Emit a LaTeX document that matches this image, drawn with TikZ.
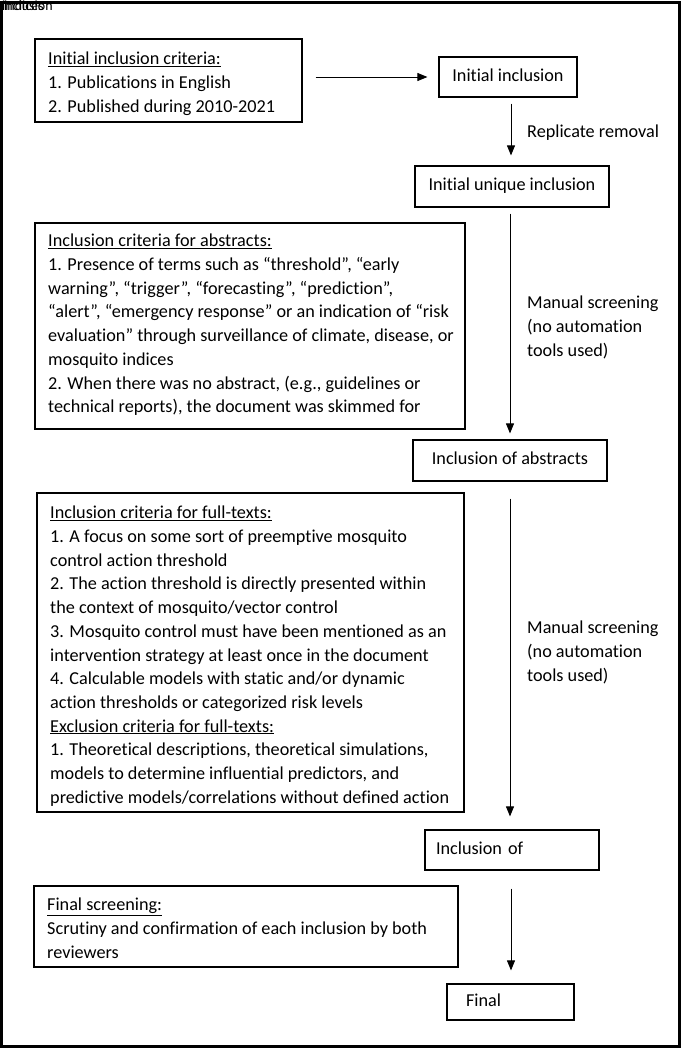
\documentclass[tikz,border=0pt]{standalone}
\usepackage{fontspec}
\setmainfont{Carlito}[Ligatures={NoCommon}]
\usetikzlibrary{arrows.meta}
\begin{document}
\begin{tikzpicture}[x=1pt,y=-1pt,
  every node/.style={font=\fontsize{18.2}{23.7}\selectfont, inner sep=0pt},
  frame/.style={draw, line width=1.2pt, rectangle},
  smallbox/.style={frame, text height=12pt, text depth=4pt},
  txt/.style={align=left, anchor=north west},
  lbl/.style={align=left, anchor=north west},
  arr/.style={-{Triangle[length=10pt,width=8pt]}, line width=0.9pt}]
\useasboundingbox (0,0) rectangle (682,1050);
% outer frame
\draw[line width=3pt] (1.5,2.5) rectangle (679.5,1046);
% garbled overlapping header text
\node[font=\fontsize{14}{14}\selectfont, anchor=north west] (g1) at (2,1) {inclusion};
\node[font=\fontsize{14}{14}\selectfont, anchor=north west] (g2) at (4,1) {indices};

% criteria boxes
\node[frame, minimum width=267pt, minimum height=83pt] (b1) at (168.5,80.5) {};
\node[txt] (t1) at (48,52) {\underline{Initial inclusion criteria:}\\1. Publications in English\\2. Published during 2010-2021};

\node[frame, minimum width=430pt, minimum height=206pt] (b2) at (250,326) {};
\node[txt] (t2) at (48,234) {\underline{Inclusion criteria for abstracts:}\\
1. Presence of terms such as “threshold”, “early\\
warning”, “trigger”, “forecasting”, “prediction”,\\
“alert”, “emergency response” or an indication of “risk\\
evaluation” through surveillance of climate, disease, or\\
mosquito indices\\
2. When there was no abstract, (e.g., guidelines or\\
technical reports), the document was skimmed for};

\node[frame, minimum width=427pt, minimum height=319pt] (b3) at (250.5,652.5) {};
\node[txt] (t3) at (50,506) {\underline{Inclusion criteria for full-texts:}\\
1. A focus on some sort of preemptive mosquito\\
control action threshold\\
2. The action threshold is directly presented within\\
the context of mosquito/vector control\\
3. Mosquito control must have been mentioned as an\\
intervention strategy at least once in the document\\
4. Calculable models with static and/or dynamic\\
action thresholds or categorized risk levels\\
\underline{Exclusion criteria for full-texts:}\\
1. Theoretical descriptions, theoretical simulations,\\
models to determine influential predictors, and\\
predictive models/correlations without defined action};

\node[frame, minimum width=424pt, minimum height=81pt] (b4) at (246,926.5) {};
\node[txt] (t4) at (47,898) {\underline{Final screening:}\\
Scrutiny and confirmation of each inclusion by both\\
reviewers};

% flow boxes
\node[smallbox, minimum width=138pt, minimum height=40pt] (n1) at (508,77) {Initial inclusion};
\node[smallbox, minimum width=194pt, minimum height=41pt] (n2) at (512,186.5) {Initial unique inclusion};
\node[smallbox, minimum width=194pt, minimum height=41pt] (n3) at (510,460.5) {Inclusion of abstracts};
\node[smallbox, minimum width=174pt, minimum height=40pt, text width=152pt, align=left] (n4) at (512,850) {Inclusion of};
\node[smallbox, minimum width=127pt, minimum height=36pt, text width=89pt, align=left] (n5) at (510.5,1002) {Final};

% labels
\node[anchor=base west] (l1) at (527,137) {Replicate removal};
\node[lbl] (l2) at (527,296) {Manual screening\\(no automation\\tools used)};
\node[lbl] (l3) at (527,621) {Manual screening\\(no automation\\tools used)};

% connectors
\draw[arr, shorten <=13pt, shorten >=11pt] (b1.east |- n1.west) -- (n1.west);
\draw[arr, shorten <=6pt, shorten >=10pt] (n1.south -| 511,0) -- (n2.north -| 511,0);
\draw[arr, shorten <=6pt, shorten >=6pt] (n2.south -| 510,0) -- (n3.north -| 510,0);
\draw[arr, shorten <=17pt, shorten >=13pt] (n3.south -| 510,0) -- (n4.north -| 510,0);
\draw[arr, shorten <=18pt, shorten >=13pt] (n4.south -| 511,0) -- (n5.north -| 511,0);
\end{tikzpicture}
\end{document}
